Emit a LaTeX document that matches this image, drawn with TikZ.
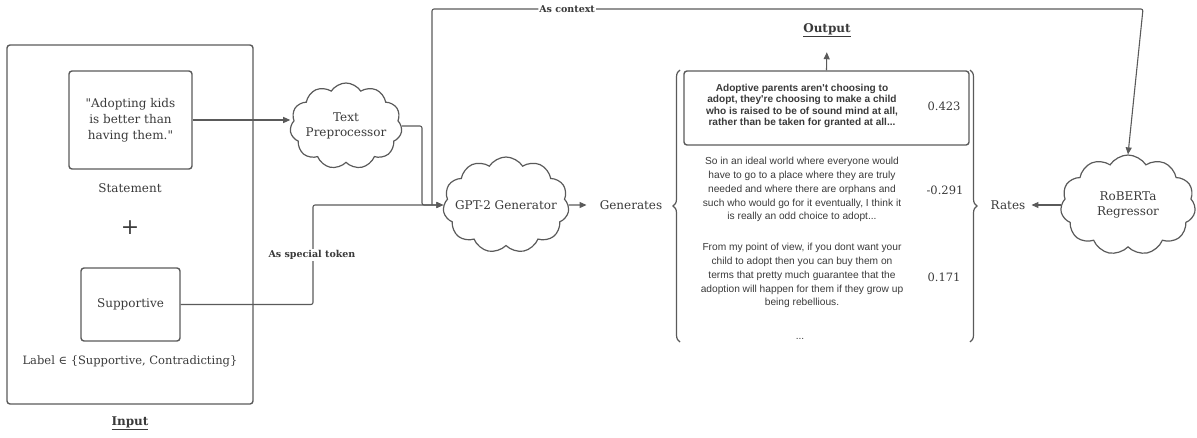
\documentclass[tikz,border=0pt]{standalone}
\usepackage{fontspec}
\setmainfont{DejaVu Serif}
\newfontfamily\sansfont{Liberation Sans}
% plain font without the TeX text mapping, so " stays a straight quote
\font\straightq="DejaVu Serif" at 12pt
\usetikzlibrary{shapes.symbols,arrows.meta,decorations.pathreplacing,calc}

\definecolor{ink}{HTML}{3A3A3A}
\definecolor{wire}{HTML}{5A5A5A}

\begin{document}
\begin{tikzpicture}[x=1pt,y=-1pt,
  every node/.style={text=ink},
  frame/.style={draw=wire, line width=1.4pt, rounded corners=3pt},
  cloudnode/.style={cloud, cloud puffs=11, cloud puff arc=115, draw=wire,
    line width=1.2pt, inner sep=0pt},
  cloudtext/.style={align=center, font=\fontsize{12}{15}\selectfont},
  wireline/.style={draw=wire, line width=1.1pt, rounded corners=2pt},
  arr/.style={wireline, -{Triangle[length=7pt,width=6pt]}},
  txt/.style={font=\fontsize{12}{16}\selectfont, align=center},
  num/.style={font=\fontsize{11.5}{14}\selectfont},
  edgelabel/.style={fill=white, inner sep=1pt, font=\bfseries\fontsize{9.5}{11}\selectfont},
  heading/.style={font=\bfseries\fontsize{12}{14}\selectfont},
  sample/.style={align=center, font=\sansfont\fontsize{10.2}{13.9}\selectfont},
  bestsample/.style={align=center, font=\sansfont\bfseries\fontsize{10.1}{11.2}\selectfont},
  bracepath/.style={draw=wire, line width=1.2pt, decorate, decoration={brace, amplitude=7pt}}
]
\useasboundingbox (0,0) rectangle (1197,437);

% ---- input panel ----
\node[frame, minimum width=246, minimum height=359] (inbox) at (130,224.5) {};
\node[frame, txt, minimum width=123, minimum height=98] (stm) at (130.5,120)
  {{\straightq"}Adopting kids\\is better than\\having them.{\straightq"}};
\node[txt] (stmlbl) at (130,188) {Statement};
\node[font=\fontsize{22}{22}\selectfont] (plus) at (130,228) {+};
\node[frame, txt, minimum width=99, minimum height=73] (sup) at (130.5,304.5) {Supportive};
\node[font=\fontsize{11.5}{14}\selectfont] (lbl) at (130,361) {Label ∈ \{Supportive, Contradicting\}};
\node[heading] (inhead) at (130,423) {\underline{Input}};

% ---- models ----
\node[cloudnode, minimum width=112, minimum height=86] (tp) at (346,126)
  {\phantom{x}};
\node[cloudtext] at (tp) {Text\\Preprocessor};
\node[cloudnode, minimum width=126, minimum height=96] (gpt) at (506,205)
  {\phantom{x}};
\node[cloudtext] at (gpt) {GPT-2 Generator};
\node[cloudnode, minimum width=135, minimum height=100] (rob) at (1128,205)
  {\phantom{x}};
\node[cloudtext] at (rob) {RoBERTa\\Regressor};

\node[txt, inner sep=2pt] (gen) at (631,205) {Generates};
\node[txt, inner sep=2pt] (rates) at (1008,205) {Rates};

% ---- generated samples ----
\node[frame, minimum width=285, minimum height=74] (best) at (826.5,108) {};
\node[bestsample] (t1) at (802,106)
  {Adoptive parents aren't choosing to\\adopt, they're choosing to make a child\\who is raised to be of sound mind at all,\\rather than be taken for granted at all...};
\node[num] (s1) at (944,106) {0.423};
\node[sample] (t2) at (802,189.5)
  {So in an ideal world where everyone would\\have to go to a place where they are truly\\needed and where there are orphans and\\such who would go for it eventually, I think it\\is really an odd choice to adopt...};
\node[num] (s2) at (945,190) {-0.291};
\node[sample] (t3) at (802,275.5)
  {From my point of view, if you dont want your\\child to adopt then you can buy them on\\terms that pretty much guarantee that the\\adoption will happen for them if they grow up\\being rebellious.};
\node[num] (s3) at (944,277) {0.171};
\node[sample] (more) at (800,339) {...};
\node[heading] (outhead) at (827,30) {\underline{Output}};

\draw[bracepath] (680,342) -- (680,70);
\draw[bracepath] (970,70) -- (970,342);

% ---- connectors ----
\coordinate (join) at (432,205);
\draw[arr] (stm.east) -- (stm.east -| tp.west);
\draw[arr] (tp.east) -- (422,126) -- (422,205) -- (gpt.west);
\draw[arr] (sup.east) -- (313,304.5) -- (313,205) -- (gpt.west);
\node[edgelabel] (tok) at (312,255) {As special token};
\draw[arr] (join) -- (432,9) -- node[edgelabel, pos=0.19] {As context} (1143,9) -- (rob.north);
\draw[arr, shorten >=11pt] (gpt.east) -- (gen.west);
\draw[arr, shorten >=12pt] (best.north) -- (outhead.south);
\draw[arr, shorten >=4pt] (rob.west) -- (rates.east);
\end{tikzpicture}
\end{document}
